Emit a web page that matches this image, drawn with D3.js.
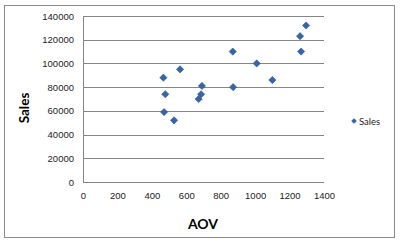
<!DOCTYPE html>
<html lang="en">
<head>
  <meta charset="utf-8">
  <title>Sales vs AOV</title>
  <script src="https://cdn.jsdelivr.net/npm/d3@7"></script>
  <style>
    body { margin: 0; background: #fff; font-family: Lato, "Open Sans", sans-serif; }
    .axis text { font-size: 9.5px; fill: #222; }
    .axis path { stroke: #868686; }
    .grid line { stroke: #868686; shape-rendering: crispEdges; }
  </style>
</head>
<body>
<script>
  // values
  var aov   = [467, 478, 471, 529, 564, 691, 686, 672, 872, 870, 1009, 1100, 1267, 1261, 1296];
  var sales = [88000, 74000, 59000, 52000, 95000, 81000, 74000, 70000, 80000, 110000, 100000, 86000, 110000, 123000, 132000];
  var xTicks = [0, 200, 400, 600, 800, 1000, 1200, 1400];
  var yTicks = [0, 20000, 40000, 60000, 80000, 100000, 120000, 140000];
  var seriesName = "Sales";

  var data = aov.map(function(d, i) { return { aov: d, sales: sales[i] }; });

  var margin = { top: 16, left: 83 },
    width = 241,
    height = 166;

  var svg = d3.select("body").append("svg")
    .attr("width", 400)
    .attr("height", 243);

  // chart frame
  svg.append("rect")
    .attr("x", 4.5).attr("y", 5.5)
    .attr("width", 390).attr("height", 232)
    .attr("fill", "#fff")
    .attr("stroke", "#8a8a8a");

  var g = svg.append("g")
    .attr("transform", "translate(" + margin.left + "," + margin.top + ")");

  var x = d3.scaleLinear().domain([0, 1400]).range([0, width]);
  var y = d3.scaleLinear().domain([0, 140000]).range([height, 0]);

  // horizontal gridlines
  g.append("g")
    .attr("class", "grid")
    .selectAll("line")
    .data(yTicks)
    .enter().append("line")
    .attr("x1", 0).attr("x2", width)
    .attr("y1", function(d) { return Math.round(y(d)) + 0.5; })
    .attr("y2", function(d) { return Math.round(y(d)) + 0.5; });

  var yAxis = g.append("g")
    .attr("class", "axis")
    .call(d3.axisLeft(y).tickValues(yTicks).tickSize(0).tickPadding(9).tickFormat(d3.format("d")));

  var xAxis = g.append("g")
    .attr("class", "axis")
    .attr("transform", "translate(0," + height + ")")
    .call(d3.axisBottom(x).tickValues(xTicks).tickSize(0).tickPadding(10).tickFormat(d3.format("d")));

  xAxis.select(".domain").remove();
  yAxis.select(".domain").attr("d", "M0.5,0V" + height);

  // points: square turned 45 degrees, like the spreadsheet diamond marker
  var marker = d3.symbol().type(d3.symbolSquare).size(26);
  g.selectAll(".pt")
    .data(data)
    .enter().append("path")
    .attr("class", "pt")
    .attr("d", marker)
    .attr("transform", function(d) { return "translate(" + x(d.aov) + "," + y(d.sales) + ") rotate(45)"; })
    .attr("fill", "#3666a8")
    .attr("stroke", "#2d5a94")
    .attr("stroke-width", 0.6);

  // axis titles
  svg.append("text")
    .attr("x", 203).attr("y", 229)
    .attr("text-anchor", "middle")
    .attr("font-size", "14px")
    .attr("font-weight", "bold")
    .text("AOV");

  svg.append("text")
    .attr("transform", "translate(29,108) rotate(-90)")
    .attr("text-anchor", "middle")
    .attr("font-size", "13.5px")
    .attr("font-weight", "bold")
    .text("Sales");

  // legend
  var legend = svg.append("g").attr("transform", "translate(354,121)");
  legend.append("path")
    .attr("d", d3.symbol().type(d3.symbolSquare).size(16))
    .attr("transform", "rotate(45)")
    .attr("fill", "#3666a8");
  legend.append("text")
    .attr("x", 5).attr("y", 3.5)
    .attr("font-size", "9.5px")
    .attr("fill", "#222")
    .text(seriesName);
</script>
</body>
</html>
